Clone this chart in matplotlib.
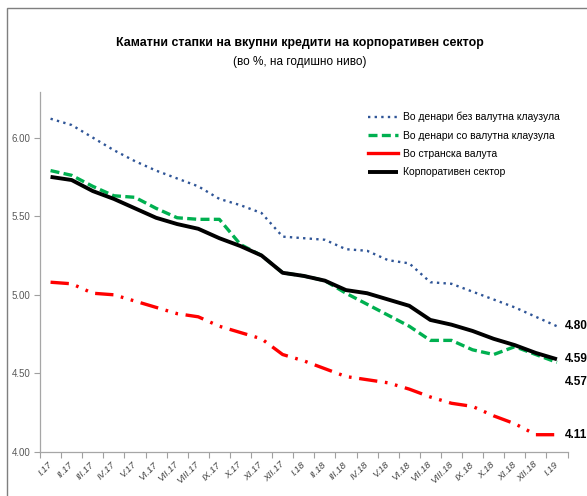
import matplotlib
matplotlib.use("Agg")
import matplotlib.pyplot as plt
from matplotlib.patches import Rectangle
from matplotlib.lines import Line2D

plt.rcParams['font.family'] = ['Liberation Sans', 'DejaVu Sans']

categories = ["I.17", "II.17", "III.17", "IV.17", "V.17", "VI.17", "VII.17", "VIII.17",
              "IX.17", "X.17", "XI.17", "XII.17", "I.18", "II.18", "III.18", "IV.18",
              "V.18", "VI.18", "VII.18", "VIII.18", "IX.18", "X.18", "XI.18", "XII.18", "I.19"]

denari_bez = [6.12, 6.08, 6.00, 5.92, 5.85, 5.79, 5.74, 5.69, 5.61, 5.57, 5.52, 5.37, 5.36,
              5.35, 5.29, 5.28, 5.22, 5.20, 5.08, 5.07, 5.02, 4.97, 4.92, 4.86, 4.80]
denari_so = [5.79, 5.76, 5.69, 5.63, 5.62, 5.55, 5.49, 5.48, 5.48, 5.32, 5.25, 5.14, 5.12,
             5.09, 5.01, 4.94, 4.87, 4.80, 4.71, 4.71, 4.65, 4.62, 4.67, 4.62, 4.57]
stranska = [5.08, 5.07, 5.01, 5.00, 4.96, 4.92, 4.88, 4.86, 4.80, 4.76, 4.72, 4.62, 4.58,
            4.53, 4.48, 4.46, 4.44, 4.40, 4.35, 4.31, 4.29, 4.23, 4.18, 4.11, 4.11]
korporativen = [5.75, 5.73, 5.66, 5.61, 5.55, 5.49, 5.45, 5.42, 5.36, 5.31, 5.25, 5.14, 5.12,
                5.09, 5.03, 5.01, 4.97, 4.93, 4.84, 4.81, 4.77, 4.72, 4.68, 4.63, 4.59]

series_labels = ["Во денари без валутна клаузула", "Во денари со валутна клаузула",
                 "Во странска валута", "Корпоративен сектор"]
yticks = [4.00, 4.50, 5.00, 5.50, 6.00]

W, H = 587, 496
fig = plt.figure(figsize=(W / 100, H / 100), dpi=100)
fig.patch.set_facecolor('white')

# outer frame (top and left visible)
fig.patches.append(Rectangle((7 / W, -0.1), 1.2, (H - 8) / H + 0.1, transform=fig.transFigure,
                             fill=False, edgecolor='#7f7f7f', linewidth=1.0))

ax = fig.add_axes([40 / W, (H - 452) / H, 527.5 / W, 360 / H])
x = list(range(len(categories)))

blue = '#2F5597'
green = '#00B050'
red = '#FF0000'

l1, = ax.plot(x, denari_bez, color=blue, lw=1.7, dashes=(1.0, 1.8), dash_capstyle='butt')
l2, = ax.plot(x, denari_so, color=green, lw=2.4, dashes=(2.7, 1.3), dash_capstyle='butt')
l3, = ax.plot(x, stranska, color=red, lw=2.4, dashes=(5.5, 2.3, 0.8, 2.3, 0.8, 2.3),
              dash_capstyle='butt')
l4, = ax.plot(x, korporativen, color='black', lw=2.8, solid_capstyle='butt')

ax.set_xlim(-0.5, len(categories) - 0.5)
ax.set_ylim(4.0, 6.29)

ax.set_yticks(yticks)
ax.set_yticklabels([f"{v:.2f}" for v in yticks], fontsize=7, color='#595959')
ax.set_xticks([i - 0.5 for i in range(len(categories) + 1)])
ax.set_xticklabels([])
ax.set_xticks(x, minor=True)
ax.set_xticklabels(categories, minor=True, rotation=45, ha='right', va='center',
                   rotation_mode='anchor', fontsize=6.8, color='#404040', style='italic')
ax.tick_params(axis='x', which='minor', length=0, pad=8)
ax.tick_params(axis='x', which='major', length=4, color='#a0a0a0', direction='out')
ax.tick_params(axis='y', length=4, color='#a0a0a0', direction='out', pad=3)

for s in ['top', 'right']:
    ax.spines[s].set_visible(False)
for s in ['left', 'bottom']:
    ax.spines[s].set_color('#a6a6a6')
    ax.spines[s].set_linewidth(0.9)

# end labels
last = len(categories) - 1
lab_kw = dict(textcoords='offset points', fontsize=8.5, fontweight='bold', va='center',
              annotation_clip=False)
ax.annotate(f"{denari_bez[-1]:.2f}", (last, denari_bez[-1]), xytext=(6, 0), **lab_kw)
ax.annotate(f"{korporativen[-1]:.2f}", (last, korporativen[-1]), xytext=(6, 0), **lab_kw)
ax.annotate(f"{denari_so[-1]:.2f}", (last, denari_so[-1]), xytext=(6, -14), **lab_kw)
ax.annotate(f"{stranska[-1]:.2f}", (last, stranska[-1]), xytext=(6, 0), **lab_kw)

# legend
h3 = Line2D([], [], color=red, lw=2.4)
leg = ax.legend([l1, l2, h3, l4], series_labels, loc='upper left',
                bbox_to_anchor=(368 / W, 1 - 112 / H), bbox_transform=fig.transFigure,
                frameon=False, fontsize=7.5, handlelength=2.9, handletextpad=0.48,
                labelspacing=0.8, borderaxespad=0, borderpad=0)

fig.text(300 / W, 1 - 43 / H, "Каматни стапки на вкупни кредити на корпоративен сектор",
         ha='center', va='center', fontsize=8.9, fontweight='bold')
fig.text(300 / W, 1 - 62 / H, "(во %, на годишно ниво)", ha='center', va='center',
         fontsize=8.5)

fig.savefig("out.png", dpi=100)
